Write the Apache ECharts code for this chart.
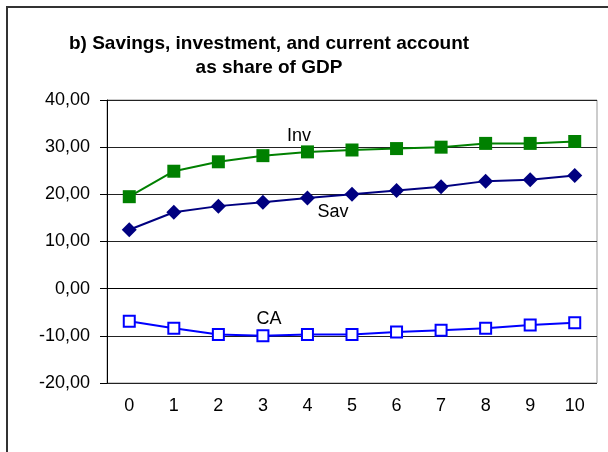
<!DOCTYPE html>
<html>
<head>
<meta charset="utf-8">
<script src="https://cdn.jsdelivr.net/npm/echarts@6/dist/echarts.min.js"></script>
<style>
  html, body { margin: 0; padding: 0; background: #fff; }
  #chart { width: 608px; height: 452px; }
</style>
</head>
<body>
<div id="chart"></div>
<script>
// periods on the x axis
const periods = ['0', '1', '2', '3', '4', '5', '6', '7', '8', '9', '10'];
// shares of GDP (%)
const invValues = [19.5, 24.9, 26.9, 28.2, 29.0, 29.4, 29.7, 30.0, 30.8, 30.8, 31.2];
const savValues = [12.5, 16.2, 17.5, 18.3, 19.2, 20.0, 20.8, 21.6, 22.8, 23.1, 24.0];
const caValues = [-6.9, -8.4, -9.7, -10.0, -9.7, -9.7, -9.2, -8.8, -8.4, -7.7, -7.2];

const font = 'Liberation Sans, Arial, sans-serif';

const chart = echarts.init(document.getElementById('chart'));
chart.setOption({
  animation: false,
  title: {
    text: 'b) Savings, investment, and current account\nas share of GDP',
    left: 264,
    top: 27,
    textAlign: 'center',
    textStyle: { fontFamily: font, fontSize: 19, fontWeight: 'bold', color: '#000', lineHeight: 24 }
  },
  grid: {
    left: 107, right: 11, top: 100, bottom: 69,
    show: true, borderColor: '#999', borderWidth: 1
  },
  xAxis: {
    type: 'category',
    data: periods,
    axisLine: { lineStyle: { color: '#000', width: 1 } },
    axisTick: { length: 6, lineStyle: { color: '#000' } },
    axisLabel: { color: '#000', fontFamily: font, fontSize: 18, margin: 14 }
  },
  yAxis: {
    type: 'value',
    min: -20, max: 40, interval: 10,
    axisLine: { show: true, lineStyle: { color: '#000', width: 1 } },
    axisTick: { show: true, length: 7, lineStyle: { color: '#000' } },
    splitLine: { lineStyle: { color: '#222', width: 1 } },
    axisLabel: {
      color: '#000', fontFamily: font, fontSize: 18, margin: 17,
      formatter: v => v.toFixed(2).replace('.', ',')
    }
  },
  series: [
    {
      name: 'Inv', type: 'line', data: invValues,
      symbol: 'rect', symbolSize: 13,
      lineStyle: { color: '#008000', width: 2 },
      itemStyle: { color: '#008000' }
    },
    {
      name: 'Sav', type: 'line', data: savValues,
      symbol: 'diamond', symbolSize: [15, 15],
      lineStyle: { color: '#000080', width: 2 },
      itemStyle: { color: '#000080' }
    },
    {
      name: 'CA', type: 'line', data: caValues,
      symbol: 'rect', symbolSize: 11,
      lineStyle: { color: '#0000ff', width: 2 },
      itemStyle: { color: '#fff', borderColor: '#0000ff', borderWidth: 2 }
    }
  ],
  graphic: [
    {
      type: 'rect', silent: true,
      shape: { x: 7, y: 7, width: 700, height: 500 },
      style: { fill: 'none', stroke: '#333', lineWidth: 2 }
    },
    { type: 'text', x: 299, y: 136, style: { text: 'Inv', font: '18px ' + font, fill: '#000', align: 'center', verticalAlign: 'middle' } },
    { type: 'text', x: 333, y: 212, style: { text: 'Sav', font: '18px ' + font, fill: '#000', align: 'center', verticalAlign: 'middle' } },
    { type: 'text', x: 269, y: 319, style: { text: 'CA', font: '18px ' + font, fill: '#000', align: 'center', verticalAlign: 'middle' } }
  ]
});
</script>
</body>
</html>
